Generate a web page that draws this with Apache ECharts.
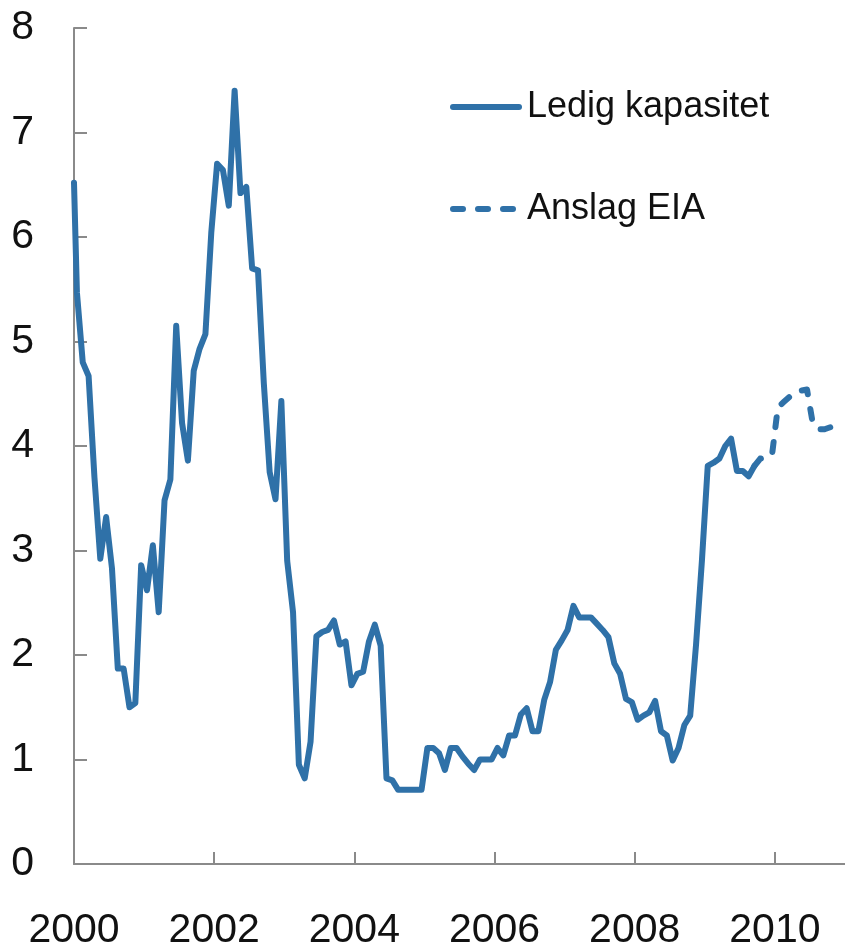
<!DOCTYPE html>
<html>
<head>
<meta charset="utf-8">
<script src="https://cdn.jsdelivr.net/npm/echarts@6/dist/echarts.min.js"></script>
<style>
  html, body { margin: 0; padding: 0; background: #ffffff; }
  #chart { width: 845px; height: 951px; }
</style>
</head>
<body>
<div id="chart"></div>
<script>
// verdi ved aksestart (1. januar 2000)
const ledigStartValue = 6.52;
// månedlige tall (midt i måneden) fra januar 2000
const ledigStart = 2000;
const ledigKapasitet = [
  5.47, 4.80, 4.67, 3.70, 2.92, 3.32, 2.83, 1.87, 1.87, 1.50, 1.54,
  2.86, 2.62, 3.05, 2.41, 3.48, 3.68, 5.15, 4.22, 3.86, 4.72, 4.93, 5.07,
  6.04, 6.70, 6.64, 6.30, 7.40, 6.42, 6.48, 5.70, 5.68, 4.60, 3.75, 3.49,
  4.43, 2.90, 2.41, 0.95, 0.82, 1.17, 2.18, 2.22, 2.24, 2.33, 2.10, 2.13,
  1.71, 1.82, 1.84, 2.13, 2.29, 2.09, 0.82, 0.80, 0.71, 0.71, 0.71, 0.71,
  0.71, 1.11, 1.11, 1.06, 0.90, 1.11, 1.11, 1.03, 0.96, 0.90, 1.00, 1.00,
  1.00, 1.11, 1.04, 1.23, 1.23, 1.43, 1.49, 1.27, 1.27, 1.57, 1.74, 2.05,
  2.14, 2.24, 2.47, 2.36, 2.36, 2.36, 2.30, 2.24, 2.17, 1.92, 1.82, 1.58,
  1.55, 1.38, 1.42, 1.45, 1.56, 1.27, 1.23, 0.99, 1.11, 1.33, 1.42, 2.10,
  2.90, 3.81, 3.84, 3.88, 4.00, 4.07, 3.76, 3.76, 3.71, 3.81
];
// EIA-anslag fra september 2009
const anslagStart = 2009 + 8 / 12;
const anslagEIA = [
  3.81, 3.88, 3.89, 3.91, 4.37, 4.42, 4.47, 4.52, 4.53, 4.54, 4.21, 4.16,
  4.16, 4.18, 4.19
];
const seriesNames = ['Ledig kapasitet', 'Anslag EIA'];
const xTicks = [2000, 2002, 2004, 2006, 2008, 2010];

const lineColor = '#2f71a8';
const axisColor = '#8a8a8a';
const fontFamily = '"Liberation Sans", Arial, sans-serif';

// midten av måneden
const toPoints = (start, values) =>
  values.map((v, i) => [start + (i + 0.5) / 12, v]);

const chart = echarts.init(document.getElementById('chart'), null, { renderer: 'canvas' });

const option = {
  animation: false,
  backgroundColor: '#ffffff',
  grid: {
    left: 74,
    right: -1,
    top: 28,
    bottom: 85
  },
  legend: {
    data: seriesNames,
    orient: 'vertical',
    left: 445,
    top: 82,
    itemWidth: 66,
    itemHeight: 14,
    itemGap: 62,
    itemStyle: { opacity: 0 },
    lineStyle: { width: 6, cap: 'round' },
    textStyle: {
      fontSize: 36,
      lineHeight: 40,
      color: '#111111',
      fontFamily: fontFamily,
      padding: [0, 0, 0, 3]
    }
  },
  xAxis: {
    type: 'value',
    min: 2000,
    max: 2011,
    interval: 2,
    axisLine: { show: true, lineStyle: { color: axisColor, width: 2 } },
    axisTick: { show: true, inside: true, length: 12, lineStyle: { color: axisColor, width: 2 } },
    splitLine: { show: false },
    axisLabel: {
      fontSize: 41,
      color: '#111111',
      fontFamily: fontFamily,
      margin: 46,
      showMaxLabel: false,
      formatter: (v) => (xTicks.includes(v) ? String(v) : '')
    }
  },
  yAxis: {
    type: 'value',
    min: 0,
    max: 8,
    interval: 1,
    axisLine: { show: true, lineStyle: { color: axisColor, width: 2 } },
    axisTick: { show: true, inside: true, length: 13, lineStyle: { color: axisColor, width: 2 } },
    splitLine: { show: false },
    axisLabel: {
      fontSize: 41,
      color: '#111111',
      fontFamily: fontFamily,
      margin: 40
    }
  },
  series: [
    {
      name: seriesNames[0],
      type: 'line',
      data: [[ledigStart, ledigStartValue]].concat(toPoints(ledigStart, ledigKapasitet)),
      showSymbol: false,
      symbol: 'none',
      lineStyle: { color: lineColor, width: 6, cap: 'round', join: 'round' },
      itemStyle: { color: lineColor }
    },
    {
      name: seriesNames[1],
      type: 'line',
      data: toPoints(anslagStart, anslagEIA),
      showSymbol: false,
      symbol: 'none',
      lineStyle: { color: lineColor, width: 6, type: [10, 15], cap: 'round', join: 'round' },
      itemStyle: { color: lineColor }
    }
  ]
};

chart.setOption(option);
</script>
</body>
</html>
